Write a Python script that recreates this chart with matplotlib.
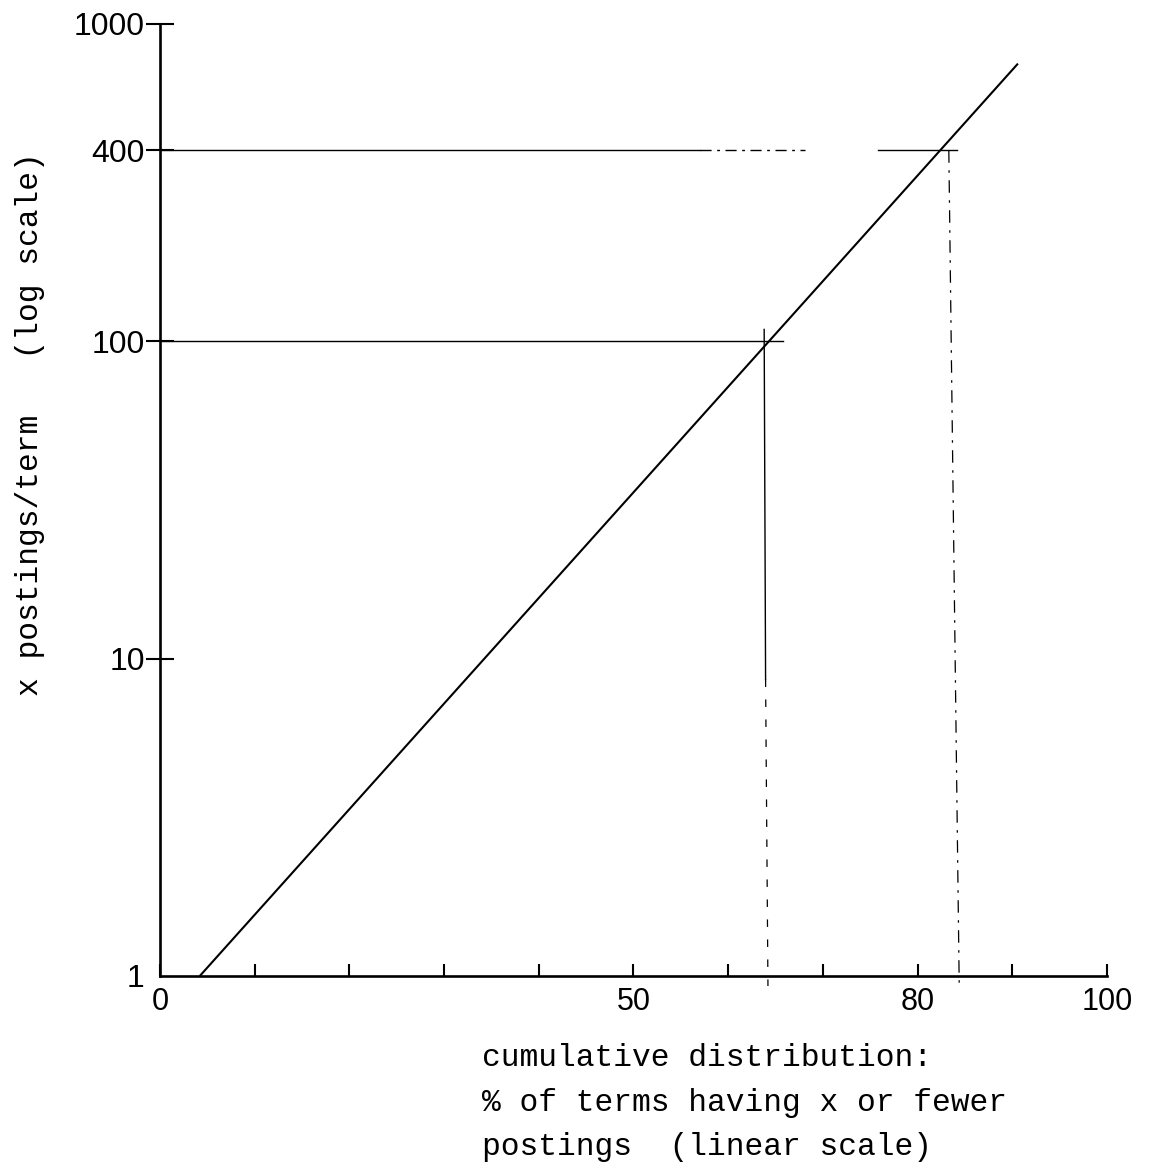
import numpy as np
import matplotlib
matplotlib.use("Agg")
import matplotlib.pyplot as plt
from matplotlib.ticker import NullLocator, FixedLocator

# fitted distribution line
cum_pct = [4.2, 90.6]
postings = [1, 750]

# reading guides at 100 and 400 postings/term
h100_x = [0, 65.8]
h100_y = [100, 100]
v100_solid_x = [63.8, 63.95]
v100_solid_y = [109, 8.6]
v100_dash_x = [63.95, 64.2]
v100_dash_y = [8.6, 0.93]

h400_solid_x = [0, 57]
h400_dash_x = [57, 68.1]
h400_right_x = [75.8, 84.2]
h400_y = [400, 400]
v400_x = [83.3, 84.4]
v400_y = [400, 0.93]

xtick_vals = [0, 10, 20, 30, 40, 50, 60, 70, 80, 90, 100]
xtick_labels = ['0', '', '', '', '', '50', '', '', '80', '', '100']
ytick_vals = [1, 10, 100, 400, 1000]
ytick_labels = ['1', '10', '100', '400', '1000']

xlabel_lines = ['cumulative distribution:',
                '% of terms having x or fewer',
                'postings  (linear scale)']
ylabel = 'x postings/term   (log scale)'

fig = plt.figure(figsize=(11.52, 11.69), dpi=100)
ax = fig.add_axes([0.1389, 0.1651, 0.822, 0.8144])

ax.plot(cum_pct, postings, color='black', lw=1.5, solid_capstyle='butt')

ax.plot(h100_x, h100_y, color='black', lw=1.0)
ax.plot(v100_solid_x, v100_solid_y, color='black', lw=1.0)
ax.plot(v100_dash_x, v100_dash_y, color='black', lw=0.9, ls=(0, (6, 10)), clip_on=False)

ax.plot(h400_solid_x, h400_y, color='black', lw=1.0)
ax.plot(h400_dash_x, h400_y, color='black', lw=1.0, ls=(0, (8, 4, 2, 4)))
ax.plot(h400_right_x, h400_y, color='black', lw=1.0)
ax.plot(v400_x, v400_y, color='black', lw=0.9, ls=(0, (10, 6, 2, 6)), clip_on=False)

ax.set_yscale('log')
ax.set_xlim(0, 100)
ax.set_ylim(1, 1000)

ax.set_xticks(xtick_vals)
ax.set_xticklabels(xtick_labels)
ax.set_xticks([100], minor=True)
ax.yaxis.set_major_locator(FixedLocator(ytick_vals))
ax.set_yticklabels(ytick_labels)
ax.yaxis.set_minor_locator(NullLocator())

for s in ['top', 'right']:
    ax.spines[s].set_visible(False)
for s in ['left', 'bottom']:
    ax.spines[s].set_linewidth(1.9)

ax.tick_params(axis='x', which='major', direction='in', length=9, width=1.5,
               pad=8, labelsize=22)
ax.tick_params(axis='x', which='minor', direction='inout', length=22, width=1.5)
ax.tick_params(axis='y', which='major', direction='inout', length=20, width=1.5,
               pad=1, labelsize=23)
first = ax.yaxis.get_major_ticks()[0]
first.tick1line.set_visible(False)
first.tick2line.set_visible(False)
for lab in ax.get_xticklabels() + ax.get_yticklabels():
    lab.set_fontfamily('Liberation Sans')

fig.text(0.026, 0.637, ylabel, rotation=90,
         ha='center', va='center', family='Liberation Mono', fontsize=22.5)
for i, line in enumerate(xlabel_lines):
    fig.text(0.418, 1 - (1066 + 44.5 * i) / 1169, line,
             ha='left', va='baseline', family='Liberation Mono', fontsize=22.5)

fig.savefig('out.png', dpi=100)
